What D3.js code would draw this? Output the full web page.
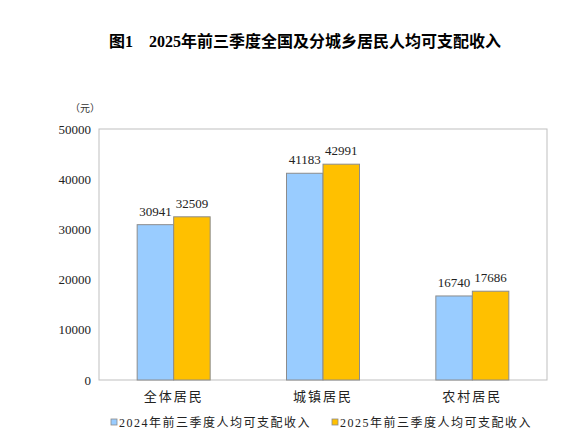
<!DOCTYPE html><html><head><meta charset="utf-8"><script src="https://cdn.jsdelivr.net/npm/d3@7"></script>
<style>body{margin:0;background:#fff}</style></head><body><svg id="c" width="581" height="448"></svg>
<script>
const categories=["全体居民","城镇居民","农村居民"];
const series=["2024年前三季度人均可支配收入","2025年前三季度人均可支配收入"];
const v2024=[30941,41183,16740];
const v2025=[32509,42991,17686];
const yTicks=[0,10000,20000,30000,40000,50000];
const colors=["#99CCFF","#FFC000"];
const svg=d3.select("#c");
const L=99,R=547,T=129,B=380;
const fs="'Liberation Serif','Noto Sans CJK SC',serif";
const x=d3.scaleBand().domain(categories).range([L,R]);
const y=d3.scaleLinear().domain([0,50000]).range([B,T]);
svg.append("text").attr("x",305).attr("y",47).attr("text-anchor","middle").attr("font-family",fs).attr("font-weight","bold").attr("font-size",16).text("图1　2025年前三季度全国及分城乡居民人均可支配收入");
svg.append("rect").attr("x",L).attr("y",T).attr("width",R-L).attr("height",B-T).attr("fill","none").attr("stroke","#bfbfbf");
svg.append("text").attr("x",70).attr("y",112).attr("font-family",fs).attr("font-size",10).attr("fill","#333").text("（元）");
const ya=svg.append("g").attr("transform",`translate(${L},0)`).call(d3.axisLeft(y).tickValues(yTicks).tickFormat(d3.format("d")).tickSize(0).tickPadding(8));
ya.select(".domain").remove();
ya.selectAll("text").attr("font-family",fs).attr("font-size",13).attr("fill","#222");
const bw=36.5;
const data=[v2024,v2025];
data.forEach((vals,si)=>{
  categories.forEach((c,i)=>{
    const cx=x(c)+x.bandwidth()/2;
    const x0=cx-bw+si*bw;
    svg.append("rect").attr("x",x0).attr("y",y(vals[i])).attr("width",bw).attr("height",B-y(vals[i])).attr("fill",colors[si]).attr("stroke","#8c8c8c").attr("stroke-width",1);
    svg.append("text").attr("x",x0+bw/2).attr("y",y(vals[i])-9).attr("text-anchor","middle").attr("font-family",fs).attr("font-size",13).attr("fill","#222").text(vals[i]);
  });
});
categories.forEach(c=>{
  svg.append("text").attr("x",x(c)+x.bandwidth()/2).attr("y",401).attr("text-anchor","middle").attr("font-family",fs).attr("font-size",13).attr("fill","#222").attr("letter-spacing",2).text(c);
});
const lx=[111,332];
series.forEach((s,i)=>{
  svg.append("rect").attr("x",lx[i]).attr("y",419).attr("width",6).attr("height",6).attr("fill",colors[i]).attr("stroke","#8c8c8c").attr("stroke-width",0.8);
  svg.append("text").attr("x",lx[i]+8).attr("y",427).attr("font-family",fs).attr("font-size",12).attr("fill","#222").attr("letter-spacing",1.5).text(s);
});
</script></body></html>
